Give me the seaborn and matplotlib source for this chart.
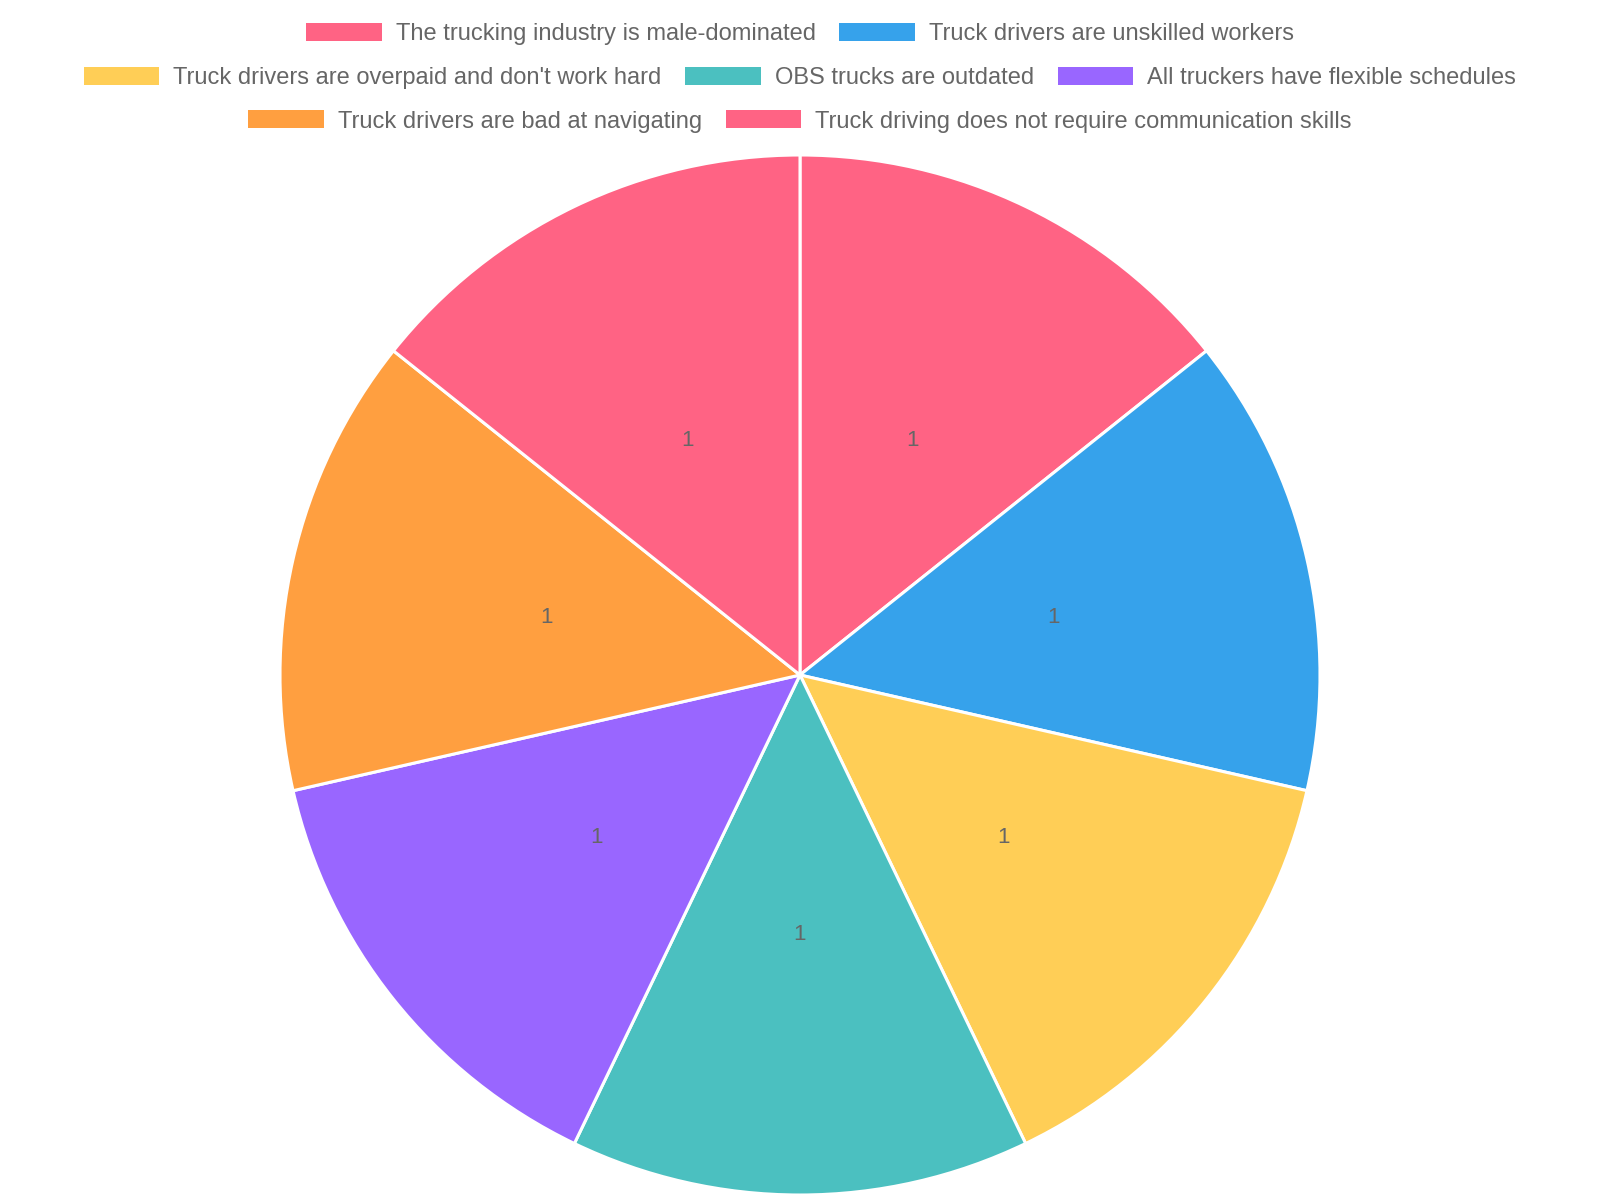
import matplotlib
matplotlib.use("Agg")
import matplotlib.pyplot as plt
from matplotlib.patches import Patch
import seaborn as sns

# data
categories = [
    "The trucking industry is male-dominated",
    "Truck drivers are unskilled workers",
    "Truck drivers are overpaid and don't work hard",
    "OBS trucks are outdated",
    "All truckers have flexible schedules",
    "Truck drivers are bad at navigating",
    "Truck driving does not require communication skills",
]
values = [1, 1, 1, 1, 1, 1, 1]
colors = ["#FF6384", "#36A2EB", "#FFCE56", "#4BC0C0", "#9966FF", "#FF9F40", "#FF6384"]
legend_rows = [[0, 1], [2, 3, 4], [5, 6]]

sns.set_style("white")
plt.rcParams["font.family"] = ["Liberation Sans", "DejaVu Sans"]

fig = plt.figure(figsize=(16, 12), dpi=100)
ax = fig.add_axes([0, 0, 1, 1])
ax.set_aspect("equal")

total = sum(values)
wedges, texts, autotexts = ax.pie(
    values,
    colors=colors,
    startangle=90,
    counterclock=False,
    center=(800, 525),
    radius=520,
    frame=True,
    autopct=lambda p: f"{round(p * total / 100)}",
    pctdistance=0.5,
    wedgeprops=dict(edgecolor="white", linewidth=2.2),
    textprops=dict(color="#666666", fontsize=16),
)
ax.set_xlim(0, 1600)
ax.set_ylim(0, 1200)
ax.axis("off")

# legend, chart.js style: centered rows
row_y = [1 - 0.0282, 1 - 0.0647, 1 - 0.1012]
for row, y in zip(legend_rows, row_y):
    handles = [Patch(facecolor=colors[i], edgecolor="none") for i in row]
    labels = [categories[i] for i in row]
    fig.legend(
        handles, labels,
        loc="center", bbox_to_anchor=(0.5, y),
        ncol=len(row), frameon=False, borderpad=0,
        fontsize=17, labelcolor="#666666",
        handlelength=3.2, handleheight=0.8,
        handletextpad=0.6, columnspacing=1.0,
    )

fig.savefig("out.png", dpi=100)
